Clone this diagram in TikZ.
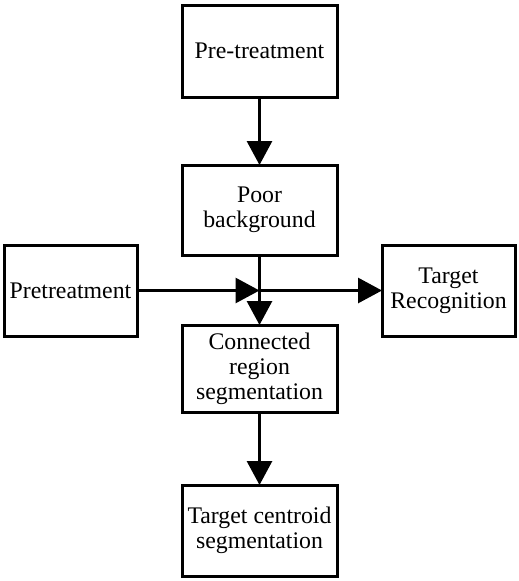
\documentclass[tikz,border=0pt]{standalone}
\usepackage{fontspec}
\setmainfont{Liberation Serif}
\usetikzlibrary{arrows.meta}
\begin{document}
\begin{tikzpicture}[x=1pt,y=1pt,
  box/.style={draw,line width=3pt,fill=white,minimum width=155pt,align=center,inner sep=2pt,outer sep=0pt,font=\fontsize{23.8}{25}\selectfont},
  sidebox/.style={box,minimum width=133pt,minimum height=91pt},
  conn/.style={line width=3pt,-{Triangle[length=24pt,width=25pt]}}]
\useasboundingbox (0,0) rectangle (519,-581);
\node[box,minimum height=92pt] (pre) at (259.5,-51) {Pre-treatment};
\node[box,minimum height=90pt] (poor) at (259.5,-210) {Poor\\background};
\node[box,minimum height=87pt] (conn) at (259.5,-368.5) {Connected\\region\\segmentation};
\node[box,minimum height=91pt] (cent) at (259.5,-530.5) {Target centroid\\segmentation};
\node[sidebox] (left) at (70.5,-290.5) {Pretreatment};
\node[sidebox] (right) at (448.5,-290.5) {Target\\Recognition};
\coordinate (x) at (259.5,-290.5);
\draw[conn] (pre) -- (poor);
\draw[conn] (poor) -- (conn);
\draw[conn] (conn) -- (cent);
\draw[conn] (left) -- (x);
\draw[conn] (x) -- (right);
\end{tikzpicture}
\end{document}
